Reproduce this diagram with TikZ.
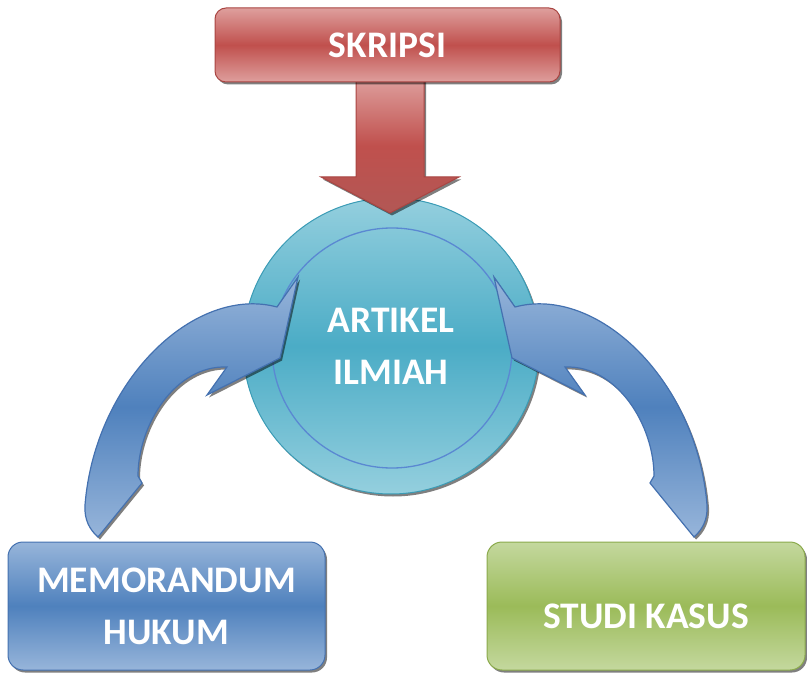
\documentclass[tikz,border=0pt]{standalone}
\usepackage{fontspec}
\setmainfont{Carlito}
\usetikzlibrary{shadows}
\definecolor{redM}{HTML}{C0504D}
\definecolor{redL}{HTML}{DE9F9D}
\definecolor{redD}{HTML}{A94542}
\definecolor{bluM}{HTML}{4F81BD}
\definecolor{bluL}{HTML}{97B5DA}
\definecolor{bluD}{HTML}{4471B0}
\definecolor{grnM}{HTML}{9BBB59}
\definecolor{grnL}{HTML}{C4D89E}
\definecolor{grnD}{HTML}{8BAA4C}
\definecolor{cyaM}{HTML}{4BACC6}
\definecolor{cyaL}{HTML}{94CFDE}
\definecolor{cyaD}{HTML}{3A9BB5}
\definecolor{ringC}{HTML}{5A88D2}
\begin{document}
\begin{tikzpicture}[x=1pt,y=-1pt,
  shadowed/.style={drop shadow={shadow xshift=2pt,shadow yshift=-2.5pt,opacity=0.5,fill=black}},
  lbl/.style={text=white,font=\bfseries\fontsize{37.5}{52}\selectfont,align=center},
  redbox/.style={shadowed,draw=redD,line width=1pt,rounded corners=11pt,
    top color=redL,bottom color=redL,middle color=redM,lbl},
  blubox/.style={shadowed,draw=bluD,line width=1pt,rounded corners=15pt,
    top color=bluL,bottom color=bluL,middle color=bluM,lbl},
  grnbox/.style={shadowed,draw=grnD,line width=1pt,rounded corners=15pt,
    top color=grnL,bottom color=grnL,middle color=grnM},
  disc/.style={circle,shadowed,draw=cyaD,line width=1pt,
    top color=cyaL,bottom color=cyaL,middle color=cyaM,lbl},
  curvarrow/.style={shadowed,draw=bluD,line width=1.2pt,line join=miter,
    top color=bluL,bottom color=bluL,middle color=bluM},
  downarrow/.style={shadowed,draw=redD,line width=1pt,
    top color=redL,bottom color=redD!90,middle color=redM}
  ]
\useasboundingbox (0,0) rectangle (807,682);

% central circle
\node[disc,minimum size=296pt] (artikel) at (391,346) {ARTIKEL\\ILMIAH};
\draw[ringC,line width=1.3pt] (392,348) circle[radius=120];

% curved arrows (left, and its mirror on the right)
\foreach \sh/\sc in {0/1,792/-1}{
\begin{scope}[xshift=\sh pt,xscale=\sc]
\path[curvarrow] (98,537) -- (142,483) -- (138,476)
  .. controls (138,425) and (175,365) .. (227,367)
  -- (207,395) -- (280,358) -- (298,277) -- (277,307)
  .. controls (195,285) and (95,380) .. (85,505)
  .. controls (84,520) and (90,530) .. (98,537) -- cycle;
\end{scope}
}

% red down arrow
\path[downarrow] (356,78) -- (424,78) -- (424,177) -- (459,177) -- (390,213)
  -- (321,177) -- (356,177) -- cycle;

% boxes
\node[redbox,minimum width=345pt,minimum height=74pt] (skripsi) at (387.5,45) {SKRIPSI};
\node[blubox,minimum width=317pt,minimum height=128pt] (memo) at (166.5,606) {MEMORANDUM\\HUKUM};
\node[grnbox,minimum width=318pt,minimum height=128pt] (studi) at (646,606) {};
\node[lbl] (studitext) at (646,616) {STUDI KASUS};
\end{tikzpicture}
\end{document}
